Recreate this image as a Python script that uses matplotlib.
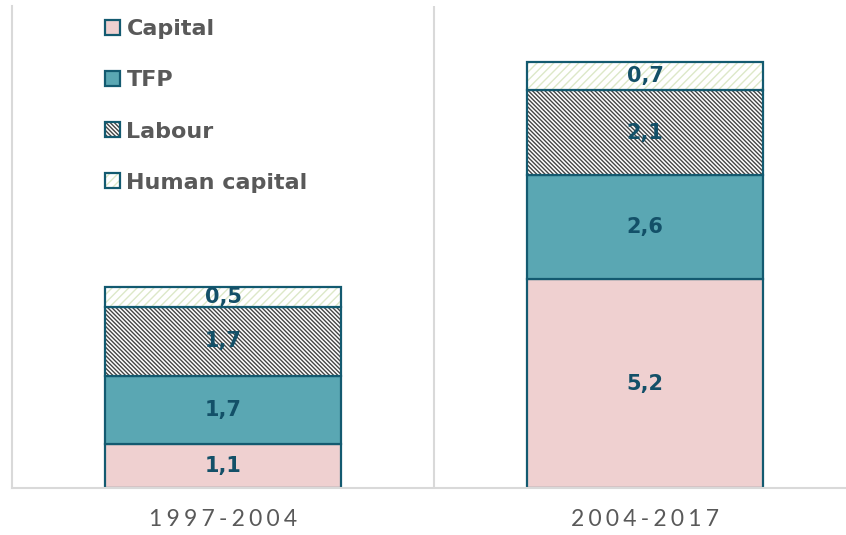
import numpy as np
import matplotlib.pyplot as plt
from matplotlib.patches import Patch
from matplotlib.legend_handler import HandlerTuple

periods = ['1997-2004', '2004-2017']
series = ['Capital', 'TFP', 'Labour', 'Human capital']
capital = [1.1, 5.2]
tfp = [1.7, 2.6]
labour = [1.7, 2.1]
human = [0.5, 0.7]

edge = '#135a70'
lblcol = '#135068'
grey = '#595959'
# facecolor, hatch, hatch colour
styles = [('#efd0d0', None, None),
          ('#5aa7b3', None, None),
          ('white', '\\' * 8, '#454545'),
          ('white', '/' * 4, '#dde8c8')]

plt.rcParams['font.family'] = ['DejaVu Sans']
plt.rcParams['hatch.linewidth'] = 1.0

fig = plt.figure(figsize=(8.46, 5.35), dpi=100)
ax = fig.add_axes([12/846, 47/535, 834/846, 482/535])

x = np.arange(len(periods))
w = 236/422
bottom = np.zeros(2)
handles = []
for vals, name, (fc, h, hc) in zip([capital, tfp, labour, human], series, styles):
    vals = np.array(vals)
    if h:
        ax.bar(x, vals, w, bottom=bottom, color=fc, hatch=h, edgecolor=hc, linewidth=0)
        ax.bar(x, vals, w, bottom=bottom, fill=False, edgecolor=edge, linewidth=1.6)
        handles.append((Patch(facecolor=fc, hatch=h, edgecolor=hc, linewidth=0),
                        Patch(fill=False, edgecolor=edge, linewidth=1.6)))
    else:
        ax.bar(x, vals, w, bottom=bottom, color=fc, edgecolor=edge, linewidth=1.6)
        handles.append(Patch(facecolor=fc, edgecolor=edge, linewidth=1.6))
    for xi, b, v in zip(x, bottom, vals):
        ax.text(xi, b + v/2, f'{v:.1f}'.replace('.', ','), ha='center', va='center',
                fontsize=15, fontweight='bold', color=lblcol)
    bottom += vals

ax.set_xlim(-0.5, 1 + (846 - 645)/422)
ax.set_ylim(0, 12)
ax.axvline(0.5, color='#d9d9d9', linewidth=1.5, zorder=0)
for s in ['top', 'right']:
    ax.spines[s].set_visible(False)
ax.spines['left'].set_color('#d9d9d9')
ax.spines['left'].set_linewidth(1.5)
ax.spines['bottom'].set_color('#d9d9d9')
ax.spines['bottom'].set_linewidth(1.5)
ax.set_yticks([])
ax.set_xticks(x)
ax.set_xticklabels(['\u2009\u200a'.join(p) for p in periods], fontsize=16.5, color=grey,
                   family=['Lato', 'DejaVu Sans'])
ax.tick_params(axis='x', length=0, pad=15)

leg = ax.legend(handles, series, handler_map={tuple: HandlerTuple(ndivide=1)},
                loc='upper left', bbox_to_anchor=((92-12)/834, 1.0),
                frameon=False, handlelength=0.65, handleheight=0.65, handletextpad=0.3,
                labelspacing=1.4, borderaxespad=0.2,
                prop={'size': 16, 'weight': 'bold'})
for t in leg.get_texts():
    t.set_color(grey)

fig.savefig('out.png', dpi=100)
